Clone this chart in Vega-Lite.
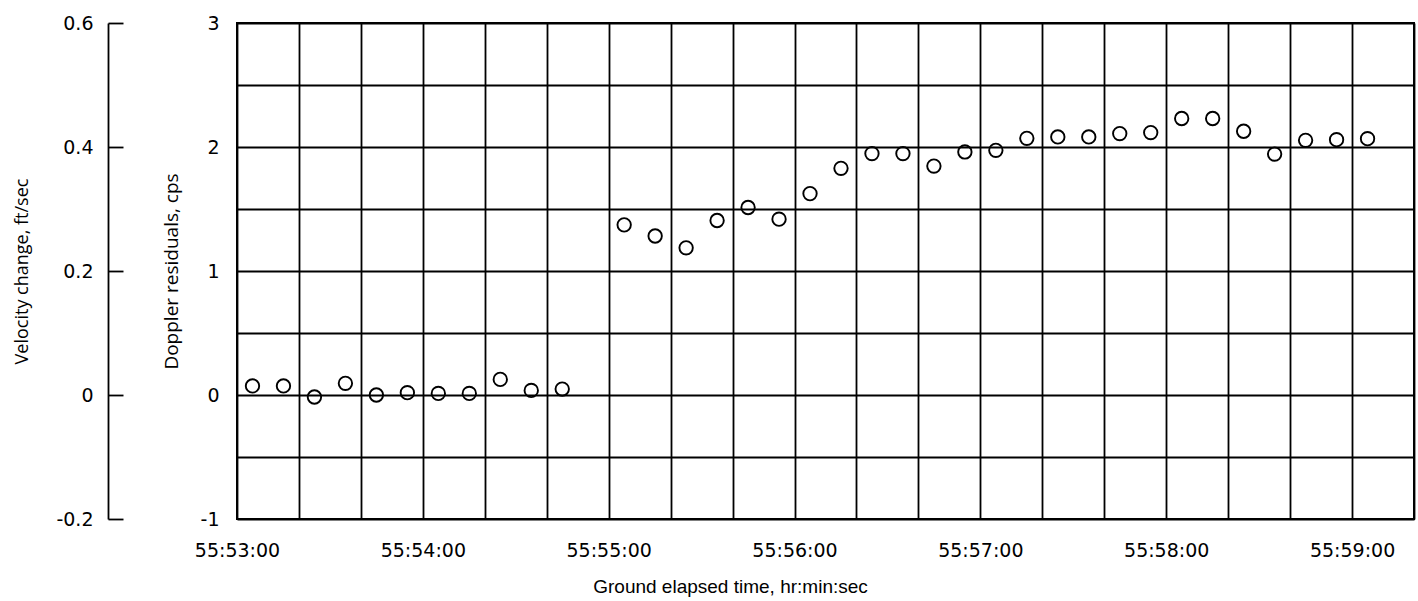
{
  "$schema": "https://vega.github.io/schema/vega-lite/v6.json",
  "autosize": {"type": "none"},
  "padding": {"left": 237, "top": 23, "right": 4, "bottom": 82},
  "width": 1177,
  "height": 496,
  "background": "white",
  "config": {
    "view": {"stroke": "black", "strokeWidth": 2},
    "axis": {
      "labelFont": "DejaVu Sans",
      "labelFontSize": 19,
      "labelColor": "black",
      "titleFont": "Open Sans",
      "titleFontWeight": "normal",
      "titleFontSize": 18,
      "titleColor": "black",
      "labelFlush": false,
      "labelOverlap": false
    }
  },
  "data": {
    "values": [
      {"time_s": 201185, "residual_cps": 0.073},
      {"time_s": 201195, "residual_cps": 0.073},
      {"time_s": 201205, "residual_cps": -0.016},
      {"time_s": 201215, "residual_cps": 0.094},
      {"time_s": 201225, "residual_cps": 0.0},
      {"time_s": 201235, "residual_cps": 0.019},
      {"time_s": 201245, "residual_cps": 0.013},
      {"time_s": 201255, "residual_cps": 0.013},
      {"time_s": 201265, "residual_cps": 0.126},
      {"time_s": 201275, "residual_cps": 0.037},
      {"time_s": 201285, "residual_cps": 0.048},
      {"time_s": 201305, "residual_cps": 1.372},
      {"time_s": 201315, "residual_cps": 1.282},
      {"time_s": 201325, "residual_cps": 1.187},
      {"time_s": 201335, "residual_cps": 1.407},
      {"time_s": 201345, "residual_cps": 1.512},
      {"time_s": 201355, "residual_cps": 1.418},
      {"time_s": 201365, "residual_cps": 1.624},
      {"time_s": 201375, "residual_cps": 1.828},
      {"time_s": 201385, "residual_cps": 1.947},
      {"time_s": 201395, "residual_cps": 1.947},
      {"time_s": 201405, "residual_cps": 1.846},
      {"time_s": 201415, "residual_cps": 1.96},
      {"time_s": 201425, "residual_cps": 1.973},
      {"time_s": 201435, "residual_cps": 2.07},
      {"time_s": 201445, "residual_cps": 2.081},
      {"time_s": 201455, "residual_cps": 2.081},
      {"time_s": 201465, "residual_cps": 2.108},
      {"time_s": 201475, "residual_cps": 2.116},
      {"time_s": 201485, "residual_cps": 2.23},
      {"time_s": 201495, "residual_cps": 2.23},
      {"time_s": 201505, "residual_cps": 2.127},
      {"time_s": 201515, "residual_cps": 1.943},
      {"time_s": 201525, "residual_cps": 2.054},
      {"time_s": 201535, "residual_cps": 2.059},
      {"time_s": 201545, "residual_cps": 2.067}
    ]
  },
  "layer": [
    {
      "mark": {"type": "point", "shape": "circle", "filled": false, "size": 180, "stroke": "black", "strokeWidth": 1.9, "opacity": 1},
      "encoding": {
        "x": {
          "field": "time_s",
          "type": "quantitative",
          "scale": {"domain": [201180, 201560], "nice": false, "zero": false},
          "axis": {
            "values": [201180, 201200, 201220, 201240, 201260, 201280, 201300, 201320, 201340, 201360, 201380, 201400, 201420, 201440, 201460, 201480, 201500, 201520, 201540, 201560],
            "labelExpr": "(datum.value - 201180) % 60 == 0 ? floor(datum.value / 3600) + ':' + format(floor((datum.value % 3600) / 60), '02d') + ':' + format(datum.value % 60, '02d') : ''",
            "grid": true,
            "gridColor": "black",
            "gridWidth": 1.8,
            "gridOpacity": 1,
            "ticks": false,
            "domain": false,
            "labelPadding": 22,
            "title": "Ground elapsed time, hr:min:sec",
            "titleFont": "Liberation Sans",
            "titleFontSize": 19,
            "titleAnchor": "start",
            "titleAlign": "center",
            "titleX": 493,
            "titlePadding": 17
          }
        },
        "y": {
          "field": "residual_cps",
          "type": "quantitative",
          "scale": {"domain": [-1, 3], "nice": false, "zero": false},
          "axis": {
            "values": [-1, -0.5, 0, 0.5, 1, 1.5, 2, 2.5, 3],
            "labelExpr": "datum.value % 1 == 0 ? toString(datum.value) : ''",
            "grid": true,
            "gridColor": "black",
            "gridWidth": 1.8,
            "gridOpacity": 1,
            "ticks": false,
            "domain": false,
            "labelPadding": 18,
            "title": "Doppler residuals, cps",
            "titleFontSize": 19,
            "titlePadding": 19
          }
        }
      }
    },
    {
      "mark": {"type": "point", "opacity": 0},
      "encoding": {
        "y": {
          "datum": 0,
          "type": "quantitative",
          "scale": {"domain": [-0.2, 0.6], "nice": false, "zero": false},
          "axis": {
            "orient": "left",
            "offset": 129,
            "values": [-0.2, 0, 0.2, 0.4, 0.6],
            "labelExpr": "toString(datum.value)",
            "grid": false,
            "domain": true,
            "domainColor": "black",
            "domainWidth": 1.8,
            "ticks": true,
            "tickColor": "black",
            "tickWidth": 1.8,
            "tickSize": -15,
            "labelPadding": 30,
            "title": "Velocity change, ft/sec",
            "titlePadding": 24
          }
        }
      }
    }
  ],
  "resolve": {"scale": {"y": "independent"}, "axis": {"y": "independent"}}
}
